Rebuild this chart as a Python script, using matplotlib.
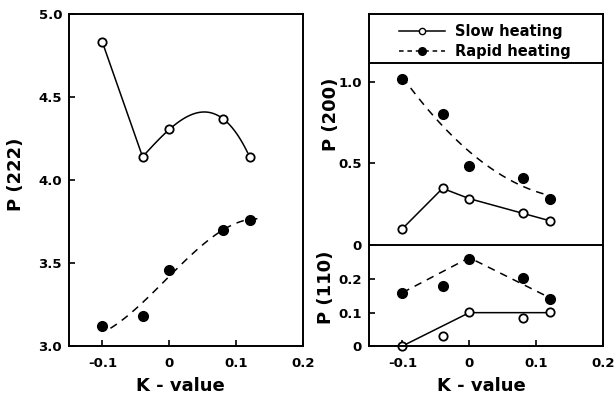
import numpy as np
import matplotlib
matplotlib.use("Agg")
import matplotlib.pyplot as plt
from matplotlib.lines import Line2D

plt.rcParams["font.family"] = "DejaVu Sans"
plt.rcParams["font.weight"] = "bold"
plt.rcParams["axes.labelweight"] = "bold"

# K-value positions shared by all series
K = [-0.10, -0.04, 0.00, 0.08, 0.12]

# P(222)
slow_222 = [4.83, 4.14, 4.305, 4.37, 4.14]
rapid_222 = [3.12, 3.18, 3.46, 3.70, 3.76]

# P(200)
slow_200 = [0.10, 0.347, 0.284, 0.194, 0.149]
rapid_200 = [1.015, 0.804, 0.484, 0.408, 0.284]

# P(110)
slow_110 = [0.00, 0.03, 0.101, 0.083, 0.102]
rapid_110 = [0.16, 0.18, 0.26, 0.205, 0.14]

# hand-drawn guide curves (knots)
rapid_222_fit_k = [-0.088, -0.038, 0.0, 0.046, 0.086, 0.12, 0.14]
rapid_222_fit_p = [3.11, 3.257, 3.43, 3.60, 3.71, 3.755, 3.77]
slow_110_fit_k = [-0.10, 0.00, 0.12]
slow_110_fit_p = [0.00, 0.10, 0.10]
rapid_110_fit_k = [-0.10, 0.00, 0.12]
rapid_110_fit_p = [0.16, 0.265, 0.145]

XTICKS = [-0.1, 0, 0.1, 0.2]
XTICKLABELS = ["-0.1", "0", "0.1", "0.2"]

TICK_FS = 9.5
LABEL_FS = 13
MS_OPEN = 6
MS_FILL = 7

fig = plt.figure(figsize=(6.16, 3.97), dpi=100)

ax_l = fig.add_axes([0.112, 0.1285, 0.380, 0.836])
ax_leg = fig.add_axes([0.599, 0.8413, 0.380, 0.1234])
ax_u = fig.add_axes([0.599, 0.3829, 0.380, 0.4584])
ax_b = fig.add_axes([0.599, 0.1285, 0.380, 0.2519])


def style(ax):
    ax.tick_params(direction="in", length=4, width=1.2, labelsize=TICK_FS, pad=5)
    for s in ax.spines.values():
        s.set_linewidth(1.4)
    ax.set_xlim(-0.15, 0.2)


def open_pts(ax, x, y, **kw):
    ax.plot(x, y, "o", mfc="white", mec="black", mew=1.3, ms=MS_OPEN, **kw)


def fill_pts(ax, x, y, **kw):
    ax.plot(x, y, "o", color="black", ms=MS_FILL, **kw)


# left panel
style(ax_l)
k = np.array(K)
ax_l.plot(K[:2], slow_222[:2], "k-", lw=1.1)
c = np.polyfit(k[1:], slow_222[1:], 3)
kk = np.linspace(-0.04, 0.117, 100)
ax_l.plot(kk, np.polyval(c, kk), "k-", lw=1.1)
open_pts(ax_l, K, slow_222)
c = np.polyfit(rapid_222_fit_k, rapid_222_fit_p, 3)
kk = np.linspace(rapid_222_fit_k[0], rapid_222_fit_k[-1], 100)
ax_l.plot(kk, np.polyval(c, kk), "k--", lw=1.1, dashes=(5, 4))
fill_pts(ax_l, K, rapid_222)
ax_l.set_ylim(3.0, 5.0)
ax_l.set_yticks([3.0, 3.5, 4.0, 4.5, 5.0])
ax_l.set_yticklabels(["3.0", "3.5", "4.0", "4.5", "5.0"])
ax_l.set_xticks(XTICKS)
ax_l.set_xticklabels(XTICKLABELS)
ax_l.tick_params(axis="x", pad=8)
ax_l.set_xlabel("K - value", fontsize=LABEL_FS)
ax_l.xaxis.set_label_coords(0.474, -0.093)
ax_l.set_ylabel("P (222)", fontsize=LABEL_FS)
ax_l.yaxis.set_label_coords(-0.19, 0.518)

# legend box
ax_leg.set_xticks([])
ax_leg.set_yticks([])
for s in ax_leg.spines.values():
    s.set_linewidth(1.4)
ax_leg.spines["bottom"].set_visible(False)
handles = [
    Line2D([], [], color="black", lw=1.1, marker="o", mfc="white", mec="black", ms=4.5),
    Line2D([], [], color="black", lw=1.1, ls="--", dashes=(3, 2.5), marker="o", ms=5.5),
]
leg = ax_leg.legend(handles, ["Slow heating", "Rapid heating"], loc="center",
                    bbox_to_anchor=(0.495, 0.44), frameon=False,
                    fontsize=10.5, handlelength=3.2, handletextpad=0.7, labelspacing=0.3,
                    borderpad=0)

# P(200) panel
style(ax_u)
ax_u.plot(K, slow_200, "k-", lw=1.1)
open_pts(ax_u, K, slow_200)
c = np.polyfit(k, rapid_200, 2)
kk = np.linspace(-0.1, 0.12, 100)
ax_u.plot(kk, np.polyval(c, kk), "k--", lw=1.1, dashes=(5, 4))
fill_pts(ax_u, K, rapid_200)
ax_u.set_ylim(0, 1.115)
ax_u.set_yticks([0, 0.5, 1.0])
ax_u.set_yticklabels(["0", "0.5", "1.0"])
ax_u.set_xticks([])
ax_u.set_ylabel("P (200)", fontsize=LABEL_FS)
ax_u.yaxis.set_label_coords(-0.124, 0.72)

# P(110) panel
style(ax_b)
ax_b.spines["top"].set_visible(False)
ax_b.plot(slow_110_fit_k, slow_110_fit_p, "k-", lw=1.1)
open_pts(ax_b, K, slow_110, clip_on=False)
ax_b.plot(rapid_110_fit_k, rapid_110_fit_p, "k--", lw=1.1, dashes=(5, 4))
fill_pts(ax_b, K, rapid_110)
ax_b.set_ylim(0, 0.30)
ax_b.set_yticks([0, 0.1, 0.2])
ax_b.set_yticklabels(["0", "0.1", "0.2"])
ax_b.set_xticks(XTICKS)
ax_b.set_xticklabels(XTICKLABELS)
ax_b.tick_params(axis="x", pad=8)
ax_b.set_xlabel("K - value", fontsize=LABEL_FS)
ax_b.xaxis.set_label_coords(0.479, -0.31)
ax_b.set_ylabel("P (110)", fontsize=LABEL_FS)
ax_b.yaxis.set_label_coords(-0.145, 0.59)

fig.savefig("out.png", dpi=100)
